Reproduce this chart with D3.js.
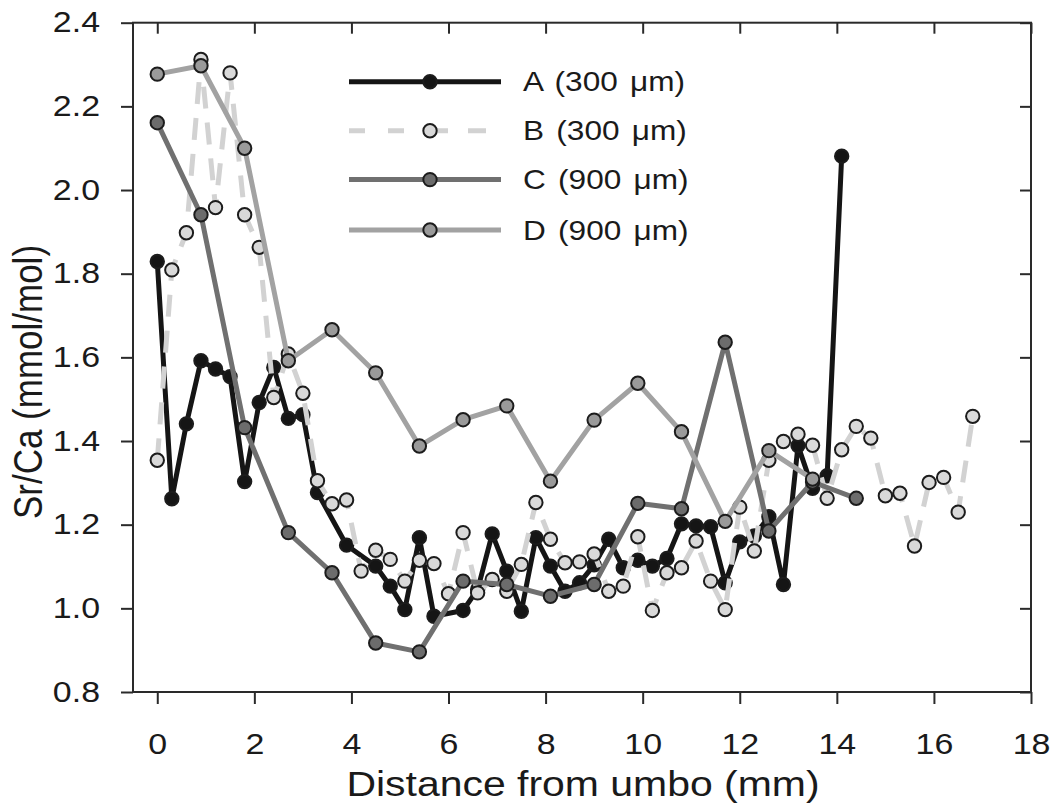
<!DOCTYPE html>
<html>
<head>
<meta charset="utf-8">
<script src="https://cdn.jsdelivr.net/npm/d3@7"></script>
<style>
  html, body { margin: 0; padding: 0; background: #fff; }
  svg { display: block; font-family: Arial, "Liberation Sans", Helvetica, sans-serif; }
</style>
</head>
<body>
<svg id="chart" width="1058" height="805"></svg>
<script>
// Sr/Ca profiles along the shell, distance from umbo (mm)
const xTicks = [0, 2, 4, 6, 8, 10, 12, 14, 16, 18];
const yTicks = [0.8, 1.0, 1.2, 1.4, 1.6, 1.8, 2.0, 2.2, 2.4];

const aX = [0, 0.3, 0.6, 0.9, 1.2, 1.5, 1.8, 2.1, 2.4, 2.7, 3.0, 3.3, 3.9, 4.5, 4.8, 5.1, 5.4, 5.7,
            6.3, 6.6, 6.9, 7.2, 7.5, 7.8, 8.1, 8.4, 8.7, 9.0, 9.3, 9.6, 9.9, 10.2, 10.5, 10.8, 11.1,
            11.4, 11.7, 12.0, 12.3, 12.6, 12.9, 13.2, 13.5, 13.8, 14.1];
const aY = [1.829, 1.262, 1.441, 1.592, 1.572, 1.554, 1.303, 1.492, 1.576, 1.454, 1.463, 1.277, 1.151,
            1.101, 1.053, 0.997, 1.169, 0.981, 0.995, 1.045, 1.178, 1.089, 0.993, 1.169, 1.101, 1.041,
            1.061, 1.104, 1.165, 1.097, 1.115, 1.101, 1.119, 1.202, 1.197, 1.195, 1.061, 1.159, 1.173,
            1.219, 1.057, 1.389, 1.287, 1.317, 2.081];

const bX = [0, 0.3, 0.6, 0.9, 1.2, 1.5, 1.8, 2.1, 2.4, 2.7, 3.0, 3.3, 3.6, 3.9, 4.2, 4.5, 4.8, 5.1,
            5.4, 5.7, 6.0, 6.3, 6.6, 6.9, 7.2, 7.5, 7.8, 8.1, 8.4, 8.7, 9.0, 9.3, 9.6, 9.9, 10.2, 10.5,
            10.8, 11.1, 11.4, 11.7, 12.0, 12.3, 12.6, 12.9, 13.2, 13.5, 13.8, 14.1, 14.4, 14.7, 15.0,
            15.3, 15.6, 15.9, 16.2, 16.5, 16.8];
const bY = [1.354, 1.809, 1.898, 2.312, 1.958, 2.280, 1.941, 1.863, 1.504, 1.608, 1.514, 1.305, 1.250,
            1.259, 1.089, 1.139, 1.117, 1.065, 1.115, 1.107, 1.035, 1.181, 1.037, 1.069, 1.041, 1.105,
            1.253, 1.165, 1.109, 1.111, 1.130, 1.041, 1.053, 1.171, 0.995, 1.085, 1.097, 1.161, 1.065,
            0.997, 1.242, 1.137, 1.354, 1.399, 1.416, 1.390, 1.263, 1.379, 1.435, 1.407, 1.269, 1.275,
            1.149, 1.301, 1.313, 1.230, 1.459];

const cX = [0, 0.9, 1.8, 2.7, 3.6, 4.5, 5.4, 6.3, 7.2, 8.1, 9.0, 9.9, 10.8, 11.7, 12.6, 13.5, 14.4];
const cY = [2.161, 1.941, 1.432, 1.181, 1.085, 0.917, 0.896, 1.065, 1.057, 1.029, 1.057, 1.251, 1.238,
            1.636, 1.185, 1.302, 1.263];

const dX = [0, 0.9, 1.8, 2.7, 3.6, 4.5, 5.4, 6.3, 7.2, 8.1, 9.0, 9.9, 10.8, 11.7, 12.6, 13.5];
const dY = [2.277, 2.297, 2.100, 1.592, 1.666, 1.563, 1.388, 1.451, 1.484, 1.304, 1.450, 1.538, 1.422,
            1.208, 1.377, 1.309];

const seriesNames = ["A (300 μm)", "B (300 μm)", "C (900 μm)", "D (900 μm)"];

const series = [
  { name: seriesNames[0], xs: aX, ys: aY, line: "#151515", fill: "#151515", dash: null },
  { name: seriesNames[1], xs: bX, ys: bY, line: "#d2d2d2", fill: "#d9d9d9", dash: "22,14" },
  { name: seriesNames[2], xs: cX, ys: cY, line: "#707070", fill: "#6c6c6c", dash: null },
  { name: seriesNames[3], xs: dX, ys: dY, line: "#a2a2a2", fill: "#9a9a9a", dash: null }
];

const svg = d3.select("#chart");
const L = 133, R = 1031, T = 22.7, B = 692;
const SX = 1.17;              // horizontal glyph widening used by all labels

const x = d3.scaleLinear().domain([-0.5, 18]).range([L, R]);
const y = d3.scaleLinear().domain([0.8, 2.4]).range([B, T]);

const tickFont = 29;
const axisColor = "#2a2a2a";
const textColor = "#1a1a1a";

// frame
svg.append("rect")
  .attr("x", L).attr("y", T).attr("width", R - L).attr("height", B - T)
  .attr("fill", "none").attr("stroke", axisColor).attr("stroke-width", 2);

function styleAxis(g) {
  g.select(".domain").remove();
  g.selectAll(".tick line").attr("stroke", axisColor).attr("stroke-width", 2);
  g.selectAll(".tick text").attr("fill", textColor).style("font-size", tickFont + "px")
    .style("font-family", "Arial, 'Liberation Sans', sans-serif");
}
// widen tick labels horizontally while keeping their anchor point
function widenTickText(g) {
  g.selectAll(".tick text").each(function () {
    const t = d3.select(this);
    const x0 = +t.attr("x") || 0;
    t.attr("x", x0 / SX).attr("transform", `scale(${SX},1)`);
  });
}

// bottom axis (outer ticks with labels)
svg.append("g").attr("transform", `translate(0,${B})`)
  .call(d3.axisBottom(x).tickValues(xTicks).tickFormat(d3.format("d")).tickSize(12).tickPadding(29))
  .call(styleAxis).call(widenTickText);
// top axis (inner ticks)
svg.append("g").attr("transform", `translate(0,${T})`)
  .call(d3.axisTop(x).tickValues(xTicks).tickFormat("").tickSize(-11))
  .call(styleAxis);
// left axis (outer ticks with labels)
svg.append("g").attr("transform", `translate(${L},0)`)
  .call(d3.axisLeft(y).tickValues(yTicks).tickFormat(d3.format(".1f")).tickSize(12).tickPadding(21))
  .call(styleAxis).call(widenTickText);
// right axis (inner ticks)
svg.append("g").attr("transform", `translate(${R},0)`)
  .call(d3.axisRight(y).tickValues(yTicks).tickFormat("").tickSize(-11))
  .call(styleAxis);

// axis titles
svg.append("text")
  .attr("transform", `translate(583,796) scale(${SX},1)`)
  .attr("text-anchor", "middle").attr("fill", textColor)
  .style("font-size", "35px")
  .text("Distance from umbo (mm)");

svg.append("text")
  .attr("transform", `translate(42,382) scale(${SX},1) rotate(-90)`)
  .attr("text-anchor", "middle").attr("fill", textColor)
  .style("font-size", "35px")
  .text("Sr/Ca (mmol/mol)");

// data series
const lineGen = d3.line().x(d => x(d[0])).y(d => y(d[1]));
const plot = svg.append("g");

series.forEach(s => {
  const pts = s.xs.map((v, i) => [v, s.ys[i]]);
  const g = plot.append("g");
  g.append("path")
    .attr("d", lineGen(pts))
    .attr("fill", "none")
    .attr("stroke", s.line)
    .attr("stroke-width", 5)
    .attr("stroke-linejoin", "round")
    .attr("stroke-dasharray", s.dash);
  g.selectAll("circle").data(pts).join("circle")
    .attr("cx", d => x(d[0])).attr("cy", d => y(d[1]))
    .attr("r", 6.7)
    .attr("fill", s.fill)
    .attr("stroke", "#1c1c1c")
    .attr("stroke-width", 2);
});

// legend
const legX0 = 349, legX1 = 501, legMarker = 430, legText = 523;
const legY = [81.7, 130.7, 179.6, 230];
const legend = svg.append("g");
series.forEach((s, i) => {
  const yy = legY[i];
  if (s.dash) {
    legend.append("line").attr("x1", legX0).attr("x2", legMarker).attr("y1", yy).attr("y2", yy)
      .attr("stroke", s.line).attr("stroke-width", 5).attr("stroke-dasharray", "16,23");
    legend.append("line").attr("x1", legMarker).attr("x2", legX1).attr("y1", yy).attr("y2", yy)
      .attr("stroke", s.line).attr("stroke-width", 5).attr("stroke-dasharray", "18,20");
  } else {
    legend.append("line").attr("x1", legX0).attr("x2", legX1).attr("y1", yy).attr("y2", yy)
      .attr("stroke", s.line).attr("stroke-width", 5);
  }
  legend.append("circle").attr("cx", legMarker).attr("cy", yy).attr("r", 6.7)
    .attr("fill", s.fill).attr("stroke", "#1c1c1c").attr("stroke-width", 2);
  legend.append("text")
    .attr("transform", `translate(${legText},${yy}) scale(${SX},1)`)
    .attr("dy", "0.36em")
    .attr("fill", textColor).style("font-size", "27px")
    .style("word-spacing", "3px")
    .text(s.name);
});
</script>
</body>
</html>
